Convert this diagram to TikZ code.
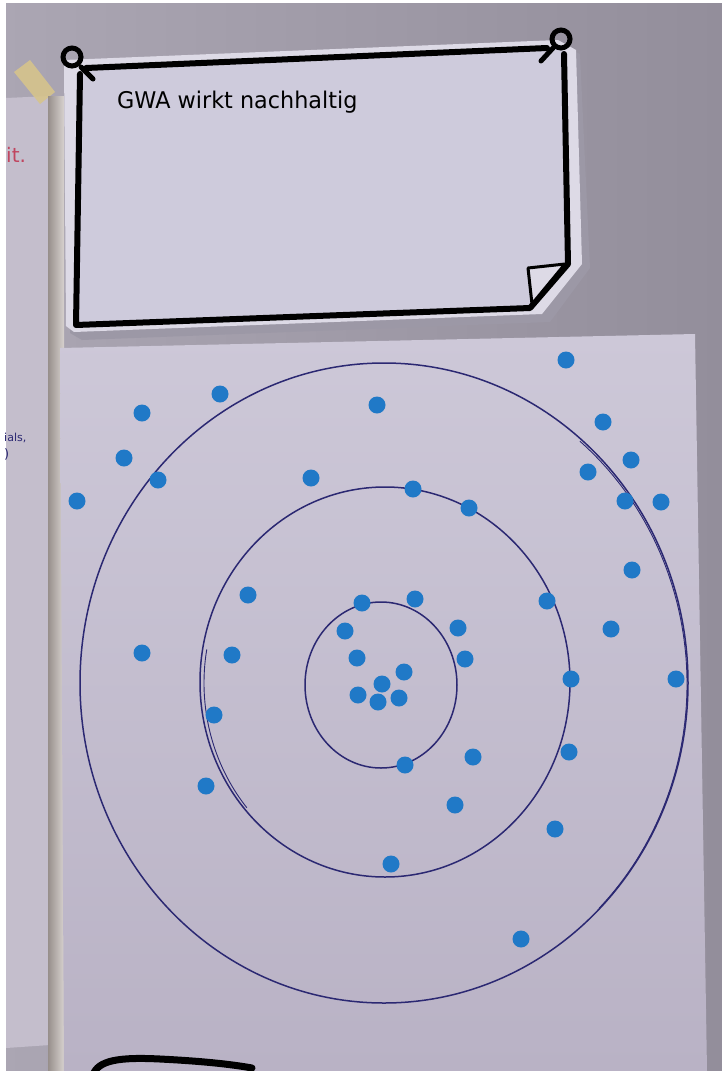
\documentclass[tikz,border=0pt]{standalone}
\usepackage{fontspec}
\newfontfamily\handfont{DejaVu Sans}
\definecolor{wall}{HTML}{ABA6B3}
\definecolor{walldark}{HTML}{938E9B}
\definecolor{paper}{HTML}{CDC8D8}
\definecolor{paperdark}{HTML}{B9B2C5}
\definecolor{leftpaper}{HTML}{C4BECC}
\definecolor{strip}{HTML}{BDB3AE}
\definecolor{signin}{HTML}{CECBDC}
\definecolor{signedge}{HTML}{DDDAE6}
\definecolor{signshadow}{HTML}{9C98A6}
\definecolor{dotblue}{HTML}{2079C7}
\definecolor{ink}{HTML}{2B2872}
\definecolor{redink}{HTML}{C0455F}
\definecolor{tape}{HTML}{D6C48C}
\tikzset{
  dot/.style={circle,fill=dotblue,minimum size=17pt,inner sep=0pt},
  ring/.style={draw=ink,line width=1.5pt},
  border/.style={draw=black,line width=6pt,line cap=round,line join=round},
  pin/.style={draw=black,line width=5pt,line cap=round}
}
\begin{document}
\begin{tikzpicture}[x=1pt,y=-1pt]
\useasboundingbox (0,0) rectangle (722,1071);
% wall
\shade[left color=wall,right color=walldark] (0,0) rectangle (722,1071);
% white photo margin
\fill[white] (0,0) rectangle (6,1071);
\fill[white] (0,0) rectangle (722,3);
% left paper
\fill[leftpaper] (6,98) -- (50,96) -- (50,1045) -- (6,1048) -- cycle;
% tape
\fill[tape,opacity=0.9] (14,72) -- (30,60) -- (55,92) -- (40,104) -- cycle;
% vertical strip between papers
\shade[left color=strip!80!black,right color=strip!60!white] (48,96) rectangle (64,1071);
% main flipchart paper
\shade[top color=paper,bottom color=paperdark] (60,348) -- (695,334) -- (707,1071) -- (64,1071) -- cycle;
% sign shadow and cut-out
\fill[signshadow] (70,66) -- (558,44) -- (580,54) -- (590,268) -- (550,322) -- (82,340) -- (70,333) -- cycle;
\fill[signedge] (64,60) -- (558,40) -- (576,50) -- (582,264) -- (542,314) -- (74,332) -- (66,326) -- cycle;
\fill[signin] (80,70) -- (552,48) -- (566,52) -- (569,264) -- (530,309) -- (76,325) -- cycle;
% black border
\draw[border] (86,68) -- (547,48);
\draw[border] (564,54) -- (568,264) -- (530,308) -- (76,325) -- (80,74);
% folded corner
\draw[draw=black,line width=3pt,fill=signedge,line join=round] (528,268) -- (565,264) -- (532,304) -- cycle;
% pins
\draw[pin] (72,57) circle[radius=9];
\draw[pin] (81,67) -- (93,79);
\draw[pin] (561,39) circle[radius=9];
\draw[pin] (553,48) -- (541,61);
% sign text
\node[anchor=base west,inner sep=0pt,font=\handfont\fontsize{23}{23}\selectfont,xscale=0.97] (title) at (117,108) {GWA wirkt nachhaltig};
% left paper texts
\node[anchor=base west,inner sep=0pt,text=redink,font=\handfont\fontsize{20}{20}\selectfont] (lefttxt1) at (6,162) {it.};
\node[anchor=base west,inner sep=0pt,text=ink,font=\handfont\fontsize{11}{11}\selectfont] (lefttxt2) at (4,441) {ials,};
\node[anchor=base west,inner sep=0pt,text=ink,font=\handfont\fontsize{13}{13}\selectfont] (lefttxt3) at (4,458) {)};
% rings
\draw[ring] (384,683) ellipse[x radius=304,y radius=320];
\draw[ring] (385,682) ellipse[x radius=185,y radius=195];
\draw[ring] (381,685) ellipse[x radius=76,y radius=83];
\draw[ring,line width=0.9pt] (387,684) ++(-50:300 and 317) arc[start angle=-50,end angle=45,x radius=300,y radius=317];
\draw[ring,line width=0.9pt] (387,683) ++(140:183 and 194) arc[start angle=140,end angle=190,x radius=183,y radius=194];
% dots
\foreach \x/\y [count=\i] in {566/360,220/394,142/413,377/405,603/422,124/458,631/460,588/472,158/480,311/478,
  77/501,413/489,469/508,625/501,661/502,632/570,248/595,362/603,415/599,547/601,
  345/631,458/628,611/629,142/653,232/655,357/658,465/659,404/672,382/684,571/679,
  676/679,358/695,378/702,399/698,214/715,473/757,569/752,405/765,206/786,455/805,
  555/829,391/864,521/939}
  \node[dot] (d\i) at (\x,\y) {};
% black curve at the bottom
\draw[draw=black,line width=7pt,line cap=round] (93,1075) .. controls (98,1060) and (120,1057) .. (160,1059) .. controls (200,1061) and (230,1064) .. (252,1068);
\end{tikzpicture}
\end{document}
